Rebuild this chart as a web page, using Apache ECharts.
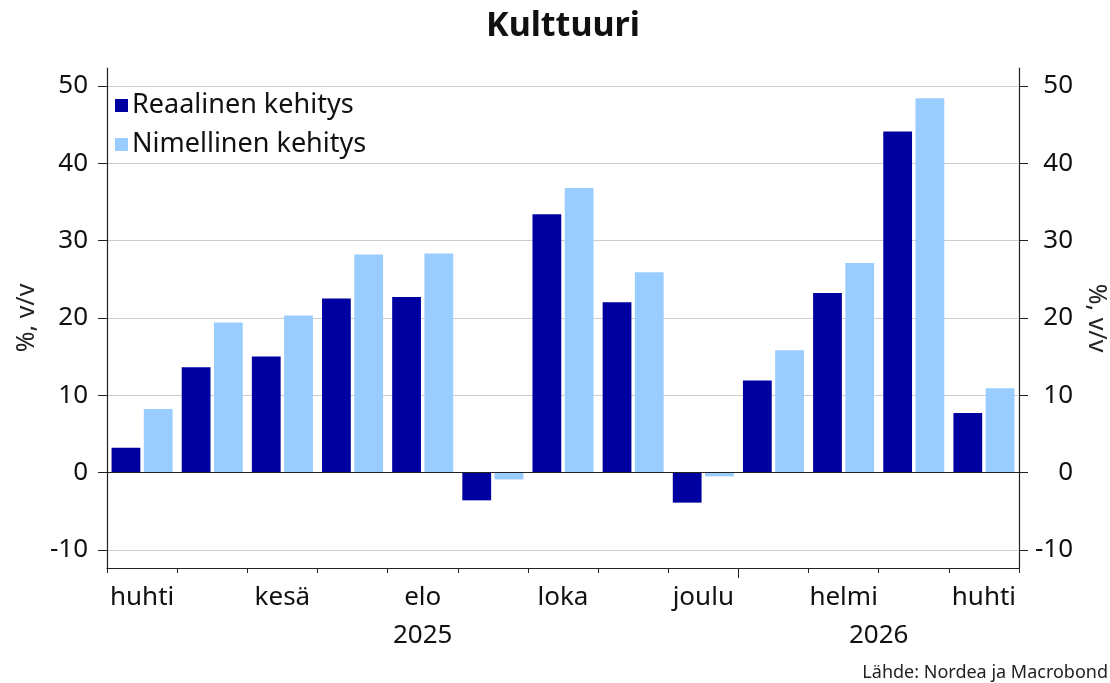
<!DOCTYPE html>
<html lang="fi">
<head>
    <meta charset="UTF-8">
    <title>Kulttuuri</title>
    <script src="https://cdn.jsdelivr.net/npm/echarts@6/dist/echarts.min.js"></script>
    <style>
        *{ margin:0; padding:0; }
        #main { width:1110px; height:683px; background:#fff; }
    </style>
</head>
<body>
<div id="main"></div>
<script>
    // kuukaudet huhti 2025 - huhti 2026
    var months = ['huhti','touko','kesä','heinä','elo','syys','loka','marras','joulu','tammi','helmi','maalis','huhti'];
    var realValues = [3.2, 13.6, 15.0, 22.5, 22.7, -3.6, 33.4, 22.0, -3.9, 11.9, 23.2, 44.1, 7.7];
    var nominalValues = [8.2, 19.4, 20.3, 28.2, 28.3, -0.9, 36.8, 25.9, -0.5, 15.8, 27.1, 48.4, 10.9];
    var yTicks = [-10, 0, 10, 20, 30, 40, 50];
    var yearLabels = ['2025', '2026'];
    var yearCenters = [4.5, 11];   // kuukausiakselilla
    var yearBreak = [9];           // tammikuun alku

    var font = 'Noto Sans';
    var chart = echarts.init(document.getElementById('main'));

    var yAxisBase = {
        type: 'value',
        min: -12.35,
        max: 52.3,
        nameLocation: 'middle',
        nameTextStyle: { fontFamily: font, fontSize: 25, color: '#222' },
        axisLine: { show: true, lineStyle: { color: '#222', width: 1.2 } },
        axisTick: { show: true, customValues: yTicks, length: 9, lineStyle: { color: '#222' } },
        axisLabel: { customValues: yTicks, fontFamily: font, fontSize: 26, color: '#111' }
    };

    var option = {
        animation: false,
        textStyle: { fontFamily: font },
        color: ['#0000a0', '#99ccff'],
        legend: {
            orient: 'vertical',
            left: 110,
            top: 87,
            itemWidth: 13,
            itemHeight: 13,
            itemGap: 12,
            icon: 'rect',
            textStyle: { fontFamily: font, fontSize: 27, color: '#111', padding: [0, 0, 0, -1] },
            data: ['Reaalinen kehitys', 'Nimellinen kehitys']
        },
        grid: { left: 107, right: 91, top: 68, bottom: 115, outerBoundsMode: 'none' },
        xAxis: [
            {
                type: 'category',
                data: months,
                position: 'bottom',
                axisLine: { onZero: false, lineStyle: { color: '#222', width: 1.2 } },
                axisTick: { show: true, alignWithLabel: false, interval: 0, length: 5, lineStyle: { color: '#222' } },
                axisLabel: { interval: 1, margin: 17, fontFamily: font, fontSize: 26, color: '#111' }
            },
            {
                type: 'value',
                min: 0,
                max: months.length,
                position: 'bottom',
                splitLine: { show: false },
                axisLine: { show: false, onZero: false },
                axisTick: { show: true, customValues: yearBreak, length: 10, lineStyle: { color: '#222' } },
                axisLabel: {
                    customValues: yearCenters,
                    margin: 55,
                    fontFamily: font, fontSize: 26, color: '#111',
                    formatter: function (v) { return v < yearBreak[0] ? yearLabels[0] : yearLabels[1]; }
                }
            }
        ],
        yAxis: [
            Object.assign({}, yAxisBase, {
                position: 'left',
                name: '%, v/v',
                nameGap: 59,
                splitLine: { show: true, lineStyle: { color: '#cccccc', width: 1 } },
                axisLabel: Object.assign({}, yAxisBase.axisLabel, { margin: 19 })
            }),
            Object.assign({}, yAxisBase, {
                position: 'right',
                name: '%, v/v',
                nameGap: 63,
                nameRotate: -90,
                splitLine: { show: false },
                axisLabel: Object.assign({}, yAxisBase.axisLabel, { margin: 54, align: 'right' })
            })
        ],
        series: [
            {
                name: 'Reaalinen kehitys',
                type: 'bar',
                data: realValues,
                barCategoryGap: '13%',
                barGap: '12%',
                markLine: {
                    silent: true,
                    symbol: 'none',
                    label: { show: false },
                    lineStyle: { color: '#222', width: 1.2, type: 'solid' },
                    data: [{ yAxis: 0 }]
                }
            },
            {
                name: 'Nimellinen kehitys',
                type: 'bar',
                data: nominalValues,
                barCategoryGap: '13%',
                barGap: '12%'
            }
        ],
        graphic: [
            {
                type: 'text',
                x: 563,
                y: 9,
                style: {
                    text: 'Kulttuuri', textAlign: 'center',
                    fontFamily: font, fontSize: 34, fontWeight: 'bold', fill: '#111'
                }
            },
            {
                type: 'text',
                right: 2,
                bottom: 1,
                style: { text: 'Lähde: Nordea ja Macrobond', fontFamily: font, fontSize: 18, fill: '#222' }
            }
        ]
    };

    chart.setOption(option);
</script>
</body>
</html>
